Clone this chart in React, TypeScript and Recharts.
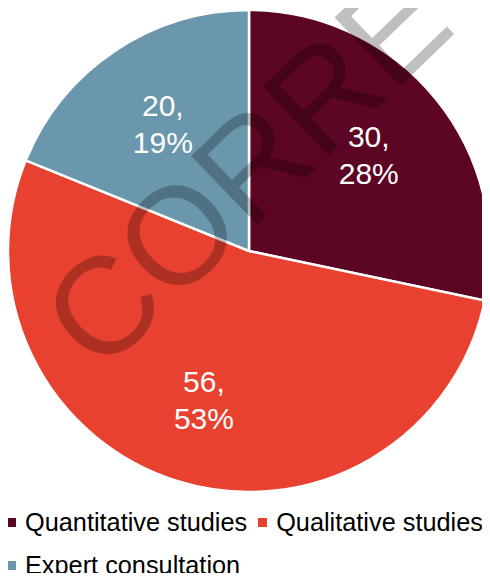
import { Cell, Legend, Pie, PieChart } from "recharts";

const categories = ["Quantitative studies", "Qualitative studies", "Expert consultation"];
const counts = [30, 56, 20];
const colors = ["#5C0525", "#E8412F", "#6B97AD"];

const data = categories.map((name, i) => ({ name, value: counts[i] }));
const total = counts.reduce((a, b) => a + b, 0);

const font = "'Liberation Sans', Arial, sans-serif";
const RAD = Math.PI / 180;

function renderLabel(props: any) {
  const { cx, cy, midAngle, outerRadius, value } = props;
  const r = outerRadius * 0.64;
  const x = cx + r * Math.cos(-midAngle * RAD);
  const y = cy + r * Math.sin(-midAngle * RAD);
  const pct = Math.round((value / total) * 100);
  return (
    <text x={x} y={y} fill="#fff" textAnchor="middle" fontSize={30} fontFamily={font}>
      <tspan x={x} dy={-7}>{value},</tspan>
      <tspan x={x} dy={37}>{pct}%</tspan>
    </text>
  );
}

function LegendContent() {
  return (
    <div style={{ display: "flex", flexWrap: "wrap", columnGap: 11, rowGap: 13, width: 490, paddingLeft: 7, boxSizing: "border-box", fontFamily: font, fontSize: 25.3, lineHeight: "30px", color: "#000" }}>
      {categories.map((name, i) => (
        <div key={name} style={{ display: "flex", alignItems: "center", whiteSpace: "nowrap" }}>
          <span style={{ display: "inline-block", width: 9, height: 9, background: colors[i], marginRight: 9 }} />
          {name}
        </div>
      ))}
    </div>
  );
}

export default function App() {
  return (
    <div style={{ position: "relative", width: 490, height: 581, margin: -8, overflow: "hidden", background: "#fff" }}>
      <PieChart width={490} height={581} margin={{ top: 0, right: 0, bottom: 0, left: 0 }}>
        <Pie
          data={data}
          dataKey="value"
          nameKey="name"
          cx={249}
          cy={251}
          outerRadius={241}
          startAngle={90}
          endAngle={-270}
          stroke="#fff"
          strokeWidth={2.5}
          label={renderLabel}
          labelLine={false}
          isAnimationActive={false}
        >
          {data.map((d, i) => <Cell key={d.name} fill={colors[i]} />)}
        </Pie>
        <Legend content={<LegendContent />} wrapperStyle={{ top: 507, left: 0, bottom: "auto", width: 490 }} />
      </PieChart>
      <svg width={490} height={581} style={{ position: "absolute", left: 0, top: 0, pointerEvents: "none" }}>
        <text x={100} y={376} transform="rotate(-44 100 376)" fontSize={138} fontFamily={font} fill="#000" fillOpacity={0.25}>
          CORRECTED
        </text>
      </svg>
    </div>
  );
}
